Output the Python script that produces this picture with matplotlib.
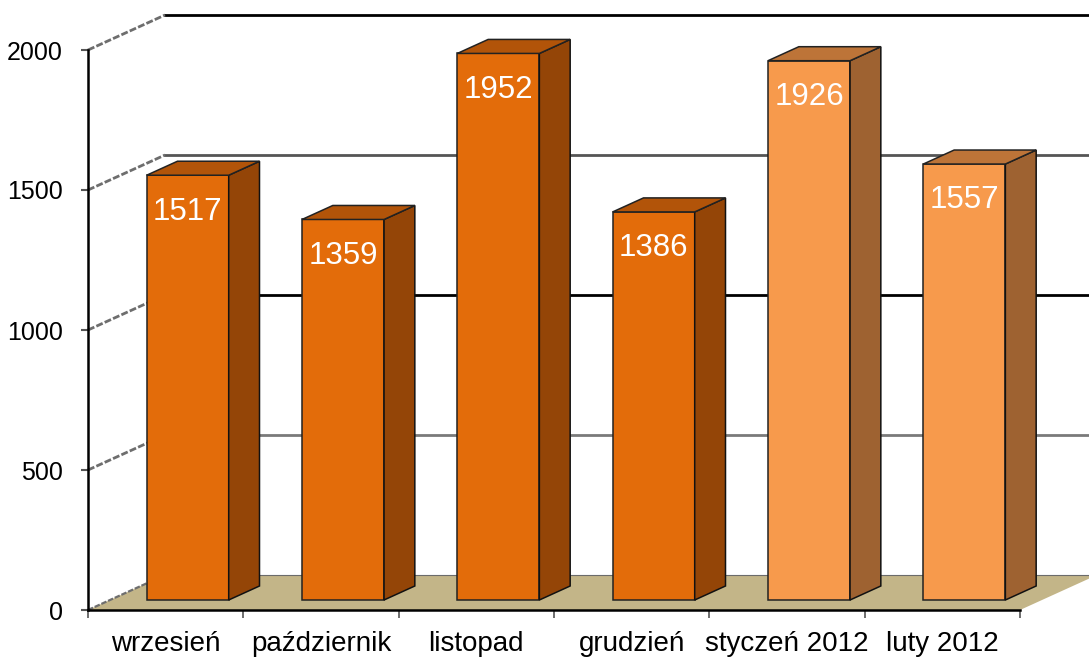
import matplotlib.pyplot as plt
from matplotlib.patches import Polygon

plt.rcParams["font.family"] = ["Liberation Sans", "DejaVu Sans"]

# dane
months = ["wrzesień", "październik", "listopad", "grudzień", "styczeń 2012", "luty 2012"]
values = [1517, 1359, 1952, 1386, 1926, 1557]
y_ticks = [0, 500, 1000, 1500, 2000]

# kolory (ciemne dla 2011, jasne dla 2012)
front_cols = ["#E36C0A"] * 4 + ["#F79A4C"] * 2
side_cols = ["#944507"] * 4 + ["#9E6231"] * 2
top_cols = ["#B25409"] * 4 + ["#BD7438"] * 2
grid_cols = {500: "#7a7a7a", 1000: "#000000", 1500: "#555555", 2000: "#000000"}

W, H = 1089, 661
fig = plt.figure(figsize=(W / 100, H / 100), dpi=100)
ax = fig.add_axes([88 / W, 51 / H, 932 / W, 560 / H])
ax.set_xlim(0, 6)
ax.set_ylim(0, 2000)

# przesunięcie głębokości (pseudo 3D) w jednostkach danych
DX = 77 / 155.33
DY = 125
d0, d1 = 0.286, 0.686
bw = 0.528

# podłoga
floor = Polygon([(0, 0), (DX, DY), (6 + DX, DY), (6, 0)], closed=True,
                facecolor="#C3B588", edgecolor="none", clip_on=False, zorder=1)
ax.add_patch(floor)
ax.plot([DX, 6 + DX], [DY, DY], color="#6b6b6b", lw=0.8, clip_on=False, zorder=1.5)

# siatka: ściana tylna i lewa
for t in y_ticks[1:]:
    c = grid_cols[t]
    ax.plot([DX, 7], [t + DY, t + DY], color=c, lw=2.0, clip_on=False, zorder=1)
    ax.plot([0, DX], [t, t + DY], color="#6e6e6e", lw=2.0, ls=(0, (2.5, 0.8)),
            clip_on=False, zorder=1)
ax.plot([0, DX], [0, DY], color="#6e6e6e", lw=1.6, ls=(0, (2.5, 0.8)),
        clip_on=False, zorder=1)

# słupki
for i, v in enumerate(values):
    xc = i + 0.5
    xl = xc - bw / 2 + d0 * DX
    xr = xc + bw / 2 + d0 * DX
    y0 = d0 * DY
    yt = v + d0 * DY
    ddx = (d1 - d0) * DX
    ddy = (d1 - d0) * DY
    front = Polygon([(xl, y0), (xr, y0), (xr, yt), (xl, yt)], closed=True,
                    facecolor=front_cols[i], edgecolor="#222222", lw=1.1,
                    clip_on=False, zorder=3)
    side = Polygon([(xr, y0), (xr + ddx, y0 + ddy), (xr + ddx, yt + ddy), (xr, yt)],
                   closed=True, facecolor=side_cols[i], edgecolor="#111111", lw=1.1,
                   clip_on=False, zorder=3)
    top = Polygon([(xl, yt), (xr, yt), (xr + ddx, yt + ddy), (xl + ddx, yt + ddy)],
                  closed=True, facecolor=top_cols[i], edgecolor="#222222", lw=1.1,
                  clip_on=False, zorder=3)
    for p in (front, side, top):
        ax.add_patch(p)
    ax.text(xc + d0 * DX, yt - 130, str(v), color="white", fontsize=22.5,
            ha="center", va="center", zorder=4)

# osie
for s in ("top", "right"):
    ax.spines[s].set_visible(False)
for s in ("left", "bottom"):
    ax.spines[s].set_linewidth(1.8)
    ax.spines[s].set_color("black")
    ax.spines[s].set_zorder(5)

ax.set_yticks(y_ticks)
ax.tick_params(axis="y", direction="out", length=5, width=1.5, color="#555555",
               pad=13, labelsize=18)
ax.set_xticks(range(7))
ax.set_xticklabels([])
ax.tick_params(axis="x", which="major", direction="out", length=6, width=1.2,
               color="#555555")
ax.set_xticks([i + 0.5 for i in range(6)], minor=True)
ax.set_xticklabels(months, minor=True)
ax.tick_params(axis="x", which="minor", length=0, pad=15, labelsize=20)
ax.set_facecolor("none")

fig.savefig("out.png", dpi=100)
